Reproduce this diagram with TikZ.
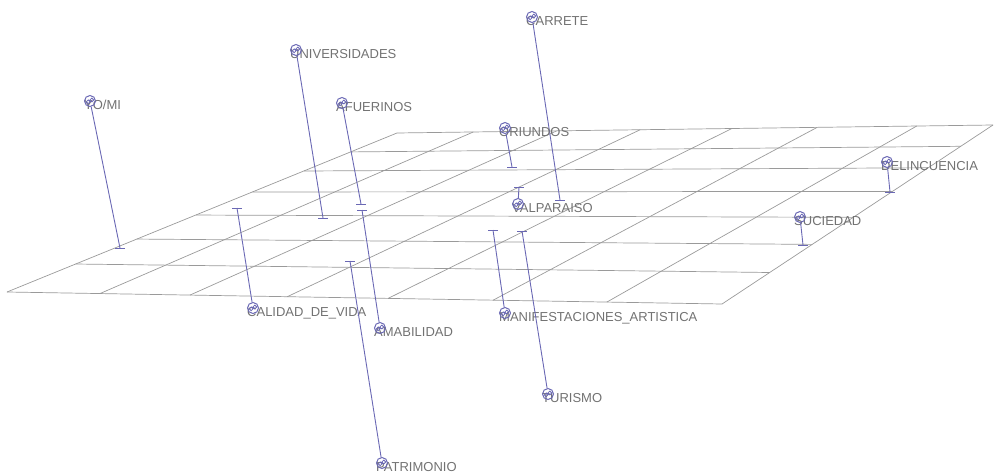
\documentclass[tikz,border=0pt]{standalone}
\usepackage{fontspec}
\setmainfont{Liberation Sans}
\usetikzlibrary{calc}
\definecolor{gridc}{HTML}{9A9A9A}
\definecolor{stickc}{HTML}{6A68B4}
\definecolor{labc}{HTML}{727272}
\tikzset{
  gridline/.style={draw=gridc, line width=0.7pt},
  stick/.style={draw=stickc, line width=0.9pt},
  icon/.style={circle, draw=stickc, line width=1pt, minimum size=11pt, inner sep=0pt,
    path picture={\draw[stickc, line width=0.8pt]
      ([shift={(-1.8pt,-0.8pt)}]path picture bounding box.center) circle (1.9pt)
      ([shift={(1.8pt,1pt)}]path picture bounding box.center) circle (1.9pt);}},
  lab/.style={anchor=base west, inner sep=0pt, text=labc, font=\fontsize{13}{15}\selectfont}
}
\begin{document}
\begin{tikzpicture}[x=1pt,y=-1pt]
\useasboundingbox (0,0) rectangle (996,476);
% plane corners
\coordinate (TL) at (397,133);
\coordinate (TR) at (993,125);
\coordinate (BL) at (7,292);
\coordinate (BR) at (722,304);
% grid
\foreach \t in {0,0.119,0.239,0.371,0.516,0.667,0.824,1}
  \draw[gridline] ($(TL)!\t!(BL)$) -- ($(TR)!\t!(BR)$);
\foreach \a/\b in {0/0,0.128/0.130,0.268/0.256,0.408/0.392,0.562/0.533,0.705/0.680,0.872/0.839,1/1}
  \draw[gridline] ($(TL)!\a!(TR)$) -- ($(BL)!\b!(BR)$);
% markers: name / icon x / icon y / tick x / tick y / text
\foreach \n/\ix/\iy/\tx/\ty/\txt in {
  yomi/90/101/120/248/YO\slash MI,
  univ/296/50/323/218/UNIVERSIDADES,
  afue/342/103/361/204/AFUERINOS,
  carr/532/17/560/200/CARRETE,
  oriu/505/128/512/167/ORIUNDOS,
  valp/518/204/519/187/VALPARAISO,
  deli/887/162/890/192/DELINCUENCIA,
  suci/800/217/803/245/SUCIEDAD,
  cali/253/308/237/208/CALIDAD\_DE\_VIDA,
  amab/380/328/362/210/AMABILIDAD,
  mani/505/313/493/230/MANIFESTACIONES\_ARTISTICA,
  turi/548/394/522/231/TURISMO,
  patr/382/463/350/261/PATRIMONIO}{
  \node[lab] (\n L) at (\ix-6,\iy+8.5) {\txt};
  \node[icon] (\n) at (\ix,\iy) {};
  \coordinate (\n T) at (\tx,\ty);
  \draw[stick] (\n) -- (\n T);
  \draw[stick] ([xshift=-5pt]\n T) -- ([xshift=5pt]\n T);
}
\end{tikzpicture}
\end{document}
